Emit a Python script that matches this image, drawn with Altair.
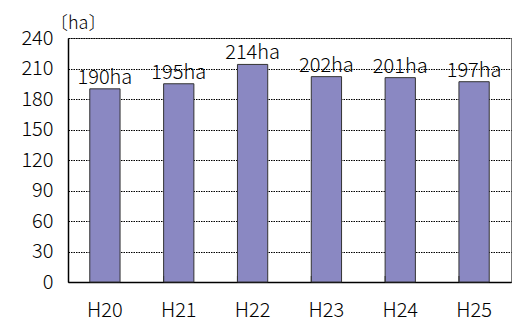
import altair as alt
import pandas as pd

years = ["H20", "H21", "H22", "H23", "H24", "H25"]
area_ha = [190, 195, 214, 202, 201, 197]
y_ticks = [0, 30, 60, 90, 120, 150, 180, 210, 240]

df = pd.DataFrame({"year": years, "area": area_ha})
df["label"] = df["area"].astype(str) + "ha"

FONT = "Noto Sans CJK JP"
FS = 20
W, H = 443, 244

x_enc = alt.X("year:N", sort=years, scale=alt.Scale(paddingInner=0.59, paddingOuter=0.295),
              axis=alt.Axis(title=None, labelFontSize=FS, labelFont=FONT, labelColor="#000",
                            labelFontWeight=300, labelPadding=18, tickSize=0,
                            domainColor="#000", domainWidth=1.5, labelAngle=0))
y_enc = alt.Y("area:Q", scale=alt.Scale(domain=[0, 240], nice=False),
              axis=alt.Axis(title=None, values=y_ticks, labelFontSize=FS, labelFont=FONT,
                            labelFontWeight=300, labelOverlap=False,
                            labelColor="#000", labelPadding=15, tickSize=0,
                            domainColor="#000", domainWidth=1.5,
                            grid=True, gridColor="#000", gridDash=[1.5, 1], gridWidth=1))

bars = alt.Chart(df).mark_bar(color="#8A88C2", stroke="#333333", strokeWidth=1).encode(
    x=x_enc, y=y_enc,
)

labels = alt.Chart(df).mark_text(baseline="alphabetic", dy=-5, fontSize=FS, font=FONT,
                                  fontWeight=300, color="#000").encode(
    x=x_enc, y=y_enc, text="label:N",
)

# small inward tick marks on the category boundaries
boundaries = alt.Chart(df.iloc[1:]).mark_rule(color="#333", strokeWidth=1).encode(
    x=alt.X("year:N", sort=years, bandPosition=0,
            scale=alt.Scale(paddingInner=0.59, paddingOuter=0.295)),
    y=alt.value(H - 6),
    y2=alt.value(H),
)

unit = alt.Chart(pd.DataFrame({"t": ["〔ha〕"]})).mark_text(
    fontSize=18, font=FONT, fontWeight=300, align="left", baseline="alphabetic", color="#000"
).encode(x=alt.value(-18), y=alt.value(-9), text="t:N")

chart = alt.layer(bars, boundaries, labels, unit).properties(
    width=W, height=H,
    autosize=alt.AutoSizeParams(type="none"),
    padding={"left": 68, "top": 38, "right": 3, "bottom": 40},
    background="white",
).configure_view(stroke="#777", strokeWidth=1)

chart.save("out.html", embed_options={"renderer": "svg", "actions": False})
